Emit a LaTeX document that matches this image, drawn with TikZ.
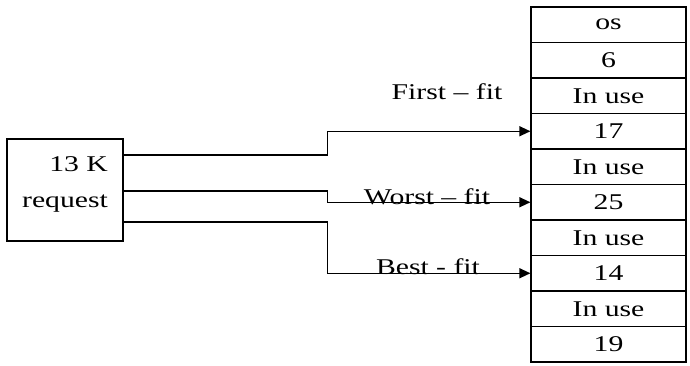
\documentclass[tikz,border=0pt]{standalone}
\usepackage{fontspec}
\setmainfont{Liberation Serif}[FakeStretch=1.32]
\usetikzlibrary{arrows.meta}
\begin{document}
\begin{tikzpicture}[x=1pt,y=-1pt,
  box/.style={draw,line width=1.2pt,inner sep=0pt},
  cell/.style={draw,line width=1.2pt,minimum width=155pt,minimum height=35.5pt,inner sep=0pt,font=\fontsize{22.5}{24}\selectfont},
  lbl/.style={inner sep=0pt,font=\fontsize{22.5}{24}\selectfont},
  arr/.style={line width=1.3pt,-{Triangle[length=11pt,width=10pt]}}]
\useasboundingbox (0,0) rectangle (690,365);
\node[box,minimum width=116pt,minimum height=102pt] (req) at (65,190) {};
\node[lbl,align=right,font=\fontsize{22.5}{36}\selectfont] (reqtxt) at (65,184) {13 K\\request};
\foreach \i/\t in {1/os,2/6,3/In use,4/17,5/In use,6/25,7/In use,8/14,9/In use,10/19}{
  \node[cell] (m\i) at (608.5,{7+35.5*(\i-0.5)}) {\t};
}
\draw[arr] ([yshift=35pt]req.east) -- ++(204,0) |- (m4.west);
\draw[arr] ([yshift=-1pt]req.east) -- ++(204,0) |- (m6.west);
\draw[arr] ([yshift=-32pt]req.east) -- ++(204,0) |- (m8.west);
\node[lbl] (l1) at (447,92) {First – fit};
\node[lbl] (l2) at (427,197) {Worst – fit};
\node[lbl] (l3) at (428,267) {Best - fit};
\end{tikzpicture}
\end{document}
